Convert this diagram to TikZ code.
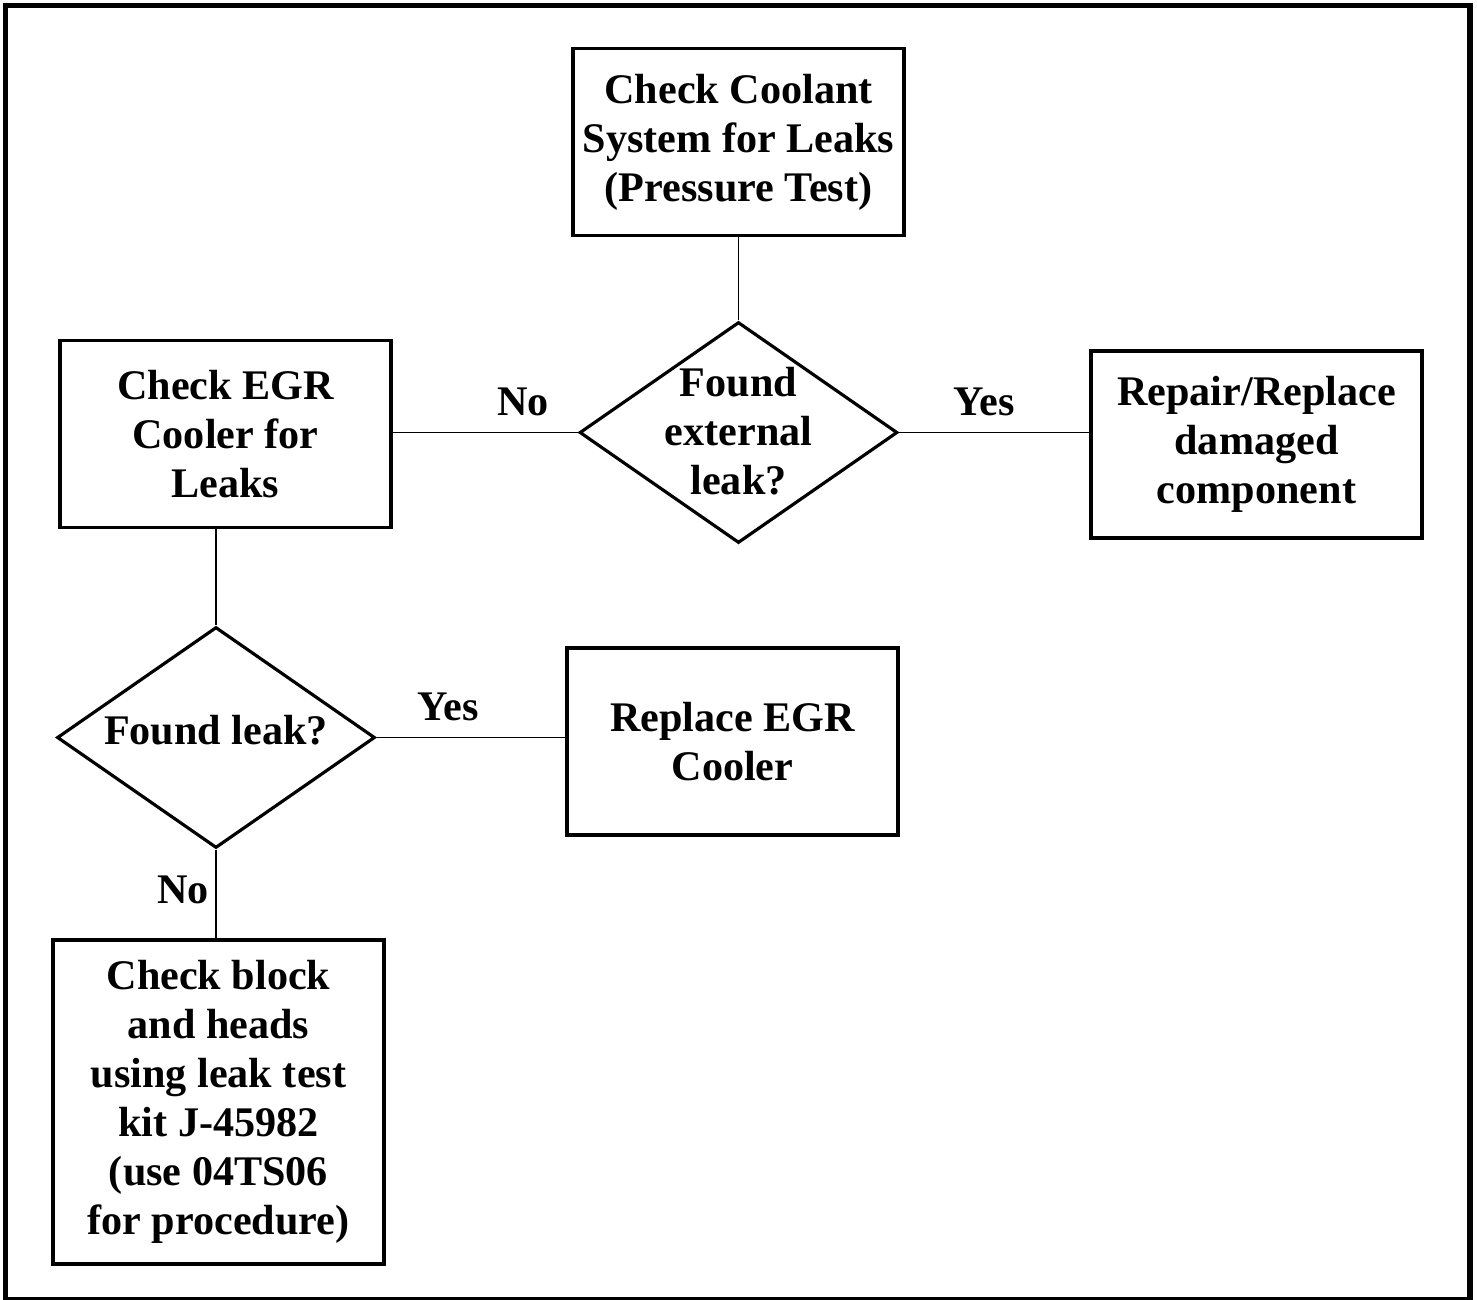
\documentclass[tikz,border=0pt]{standalone}
\usepackage{fontspec}
\setmainfont{Liberation Serif}
\usetikzlibrary{positioning,shapes.geometric}

\begin{document}
\begin{tikzpicture}[
  x=0.02cm, y=-0.02cm,
  txt/.style={font=\bfseries\fontsize{24}{27.9}\selectfont},
  box/.style={draw, txt, line width=1.8pt, minimum width=6.62cm, minimum height=3.74cm, align=center},
  test/.style={draw, diamond, line width=1.8pt, minimum width=6.36cm, minimum height=4.42cm, inner sep=0pt},
  lbl/.style={txt, anchor=base},
  link/.style={line width=1.1pt},
]
\useasboundingbox (0,0) rectangle (1477,1299);
\draw[line width=3pt] (5.5,5.5) rectangle (1470,1300);

\node[box] (coolant) at (738.5,142) {Check Coolant\\System for Leaks\\(Pressure Test)};
\node[test, label={[txt, align=center, yshift=1pt]center:Found\\external\\leak?}] (extleak) at (738.5,432.5) {};
\node[box] (egr) at (225.5,434) {Check EGR\\Cooler for\\Leaks};
\node[box] (repair) at (1256.5,444.5) {Repair/Replace\\damaged\\component};
\node[test, label={[txt, yshift=4pt]center:Found leak?}] (leak) at (216,737.5) {};
\node[box] (replace) at (732.5,741.5) {Replace EGR\\Cooler};
\node[box, minimum height=6.48cm] (block) at (218.5,1102) {Check block\\and heads\\using leak test\\kit J-45982\\(use 04TS06\\for procedure)};

\draw[link] (coolant) -- (extleak);
\draw[link] (extleak.west) -- (extleak.west -| egr.east);
\draw[link] (extleak.east) -- (extleak.east -| repair.west);
\draw[link] (leak.north |- egr.south) -- (leak.north);
\draw[link] (leak.east) -- (leak.east -| replace.west);
\draw[link] (leak.south) -- (leak.south |- block.north);

% branch labels
\node[lbl] (no1)  at (523,415) {No};
\node[lbl] (yes1) at (984,415) {Yes};
\node[lbl] (yes2) at (448,720) {Yes};
\node[lbl] (no2)  at (183,903) {No};
\end{tikzpicture}
\end{document}
